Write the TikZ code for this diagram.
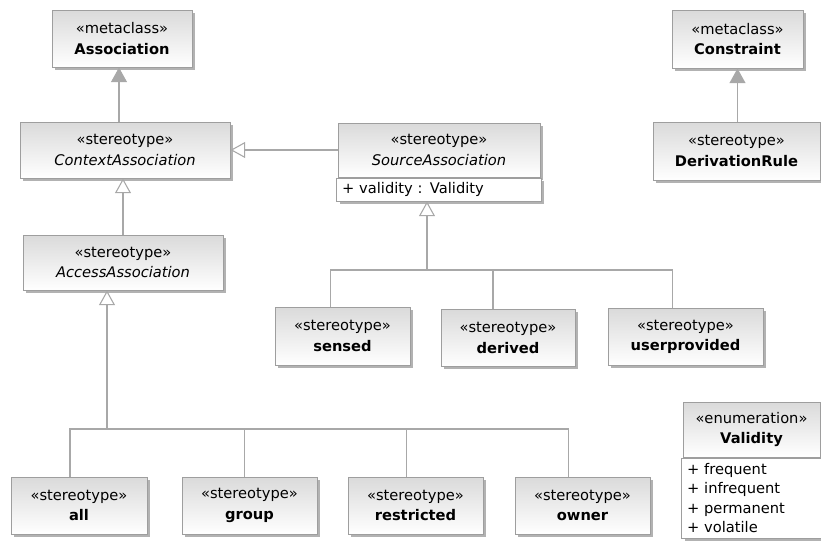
\documentclass[tikz,border=0pt]{standalone}
\usepackage{fontspec}
\setmainfont{DejaVu Sans}
\usepackage{tikz}
\usetikzlibrary{arrows.meta,calc,shadows,positioning}

\definecolor{umlline}{HTML}{A8A8A8}
\definecolor{umlborder}{HTML}{9E9E9E}
\definecolor{umlshade}{HTML}{B2B2B2}
\definecolor{umltop}{HTML}{DADADA}

\begin{document}
\begin{tikzpicture}[x=0.75pt,y=-0.75pt,
  boxsize/.style 2 args={minimum width=#1*0.75pt, minimum height=#2*0.75pt},
  umlbox/.style={draw=umlborder, line width=0.75pt, top color=umltop, bottom color=white,
    drop shadow={shadow xshift=2.2pt, shadow yshift=-2.2pt, fill=umlshade, opacity=1},
    align=center, inner sep=0pt, font=\fontsize{11}{15.5}\selectfont},
  attrbox/.style={umlbox, top color=white, bottom color=white, align=left, inner xsep=4pt,
    font=\fontsize{11}{14.6}\selectfont},
  conn/.style={draw=umlline, line width=0.8pt},
  gen/.style={conn, -{Triangle[open, width=12pt, length=11pt, fill=white]}},
  ext/.style={conn, -{Triangle[width=12pt, length=11pt, fill=umlline]}}]
\useasboundingbox (0,0) rectangle (821,540);
\node[umlbox, boxsize={140}{57}] (assoc) at (122,38.5) {«metaclass»\\\textbf{Association}};
\node[umlbox, boxsize={210}{56}] (ctx) at (125,150) {«stereotype»\\\textit{ContextAssociation}};
\node[umlbox, boxsize={200}{55}] (access) at (123,262.5) {«stereotype»\\\textit{AccessAssociation}};
\node[umlbox, boxsize={202}{54}] (srchead) at (439,150) {«stereotype»\\\textit{SourceAssociation}};
\node[attrbox, boxsize={202}{23}, text width=194*0.75pt, anchor=north] (srcattr) at (srchead.south) {+ validity : Validity};
\node[umlbox, boxsize={131}{58}] (constraint) at (737.5,39) {«metaclass»\\\textbf{Constraint}};
\node[umlbox, boxsize={167}{58}] (derivrule) at (736.5,151) {«stereotype»\\\textbf{DerivationRule}};
\node[umlbox, boxsize={135}{58}] (sensed) at (342.5,336) {«stereotype»\\\textbf{sensed}};
\node[umlbox, boxsize={134}{57}] (derived) at (508,338) {«stereotype»\\\textbf{derived}};
\node[umlbox, boxsize={155}{57}] (userprov) at (685.5,337) {«stereotype»\\\textbf{userprovided}};
\node[umlbox, boxsize={136}{57}] (all) at (79,505.5) {«stereotype»\\\textbf{all}};
\node[umlbox, boxsize={135}{57}] (group) at (249.5,505.5) {«stereotype»\\\textbf{group}};
\node[umlbox, boxsize={135}{57}] (restricted) at (415.5,505.5) {«stereotype»\\\textbf{restricted}};
\node[umlbox, boxsize={135}{57}] (owner) at (582.5,505.5) {«stereotype»\\\textbf{owner}};
\node[umlbox, boxsize={137}{55}] (validity) at (751.5,429.5) {«enumeration»\\\textbf{Validity}};
\node[attrbox, boxsize={137}{80}, text width=129*0.75pt, anchor=north] (validattr) at (validity.south) {+ frequent\\+ infrequent\\+ permanent\\+ volatile};
\draw[ext] ($(assoc.south |- ctx.north)+(-3,0)$) -- ($(assoc.south)+(-3,0)$);
\draw[ext] (constraint.south |- derivrule.north) -- (constraint.south);
\draw[gen] (access.north) -- (access.north |- ctx.south);
\draw[gen] (srchead.west) -- (ctx.east |- srchead.west);
\coordinate (srcbar) at (427,270);
\draw[gen] (srcbar) -- (srcbar |- srcattr.south);
\draw[conn] ($(sensed.north)+(-12,0)$) |- (srcbar);
\draw[conn] ($(derived.north)+(-15,0)$) |- (srcbar);
\draw[conn] ($(userprov.north)+(-13,0)$) |- (srcbar);
\coordinate (accbar) at (107,429);
\draw[gen] (accbar) -- (accbar |- access.south);
\draw[conn] ($(all.north)+(-9,0)$) |- (accbar);
\draw[conn] ($(group.north)+(-5,0)$) |- (accbar);
\draw[conn] ($(restricted.north)+(-9,0)$) |- (accbar);
\draw[conn] ($(owner.north)+(-14,0)$) |- (accbar);
\end{tikzpicture}
\end{document}
